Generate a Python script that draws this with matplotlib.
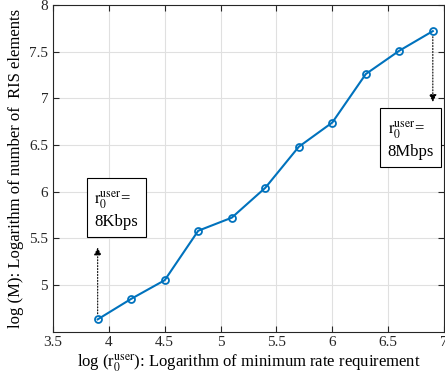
import matplotlib
matplotlib.use("Agg")
import matplotlib.pyplot as plt

plt.rcParams['font.family'] = ['Liberation Serif', 'DejaVu Serif']
plt.rcParams['mathtext.fontset'] = 'stix'

# data
log_rate = [3.9, 4.2, 4.5, 4.8, 5.1, 5.4, 5.7, 6.0, 6.3, 6.6, 6.9]
log_M = [4.63, 4.85, 5.05, 5.58, 5.72, 6.04, 6.48, 6.74, 7.26, 7.51, 7.72]
xticks = [3.5, 4, 4.5, 5, 5.5, 6, 6.5, 7]
yticks = [5, 5.5, 6, 6.5, 7, 7.5, 8]

fig = plt.figure(figsize=(4.45, 3.88), dpi=100)
ax = fig.add_axes([53/445, 1 - 331.5/388, 391/445, 326.5/388])

ax.plot(log_rate, log_M, '-o', color='#0072BD', lw=1.5, ms=5,
        mfc='none', mew=1.3)

ax.set_xlim(3.5, 7)
ax.set_ylim(4.5, 8)
ax.set_xticks(xticks)
ax.set_xticklabels(['3.5', '4', '4.5', '5', '5.5', '6', '6.5', '7'])
ax.set_yticks(yticks)
ax.set_yticklabels(['5', '5.5', '6', '6.5', '7', '7.5', '8'])
ax.tick_params(direction='in', top=True, right=True, labelsize=11,
               length=4, width=0.8, colors='#262626')
ax.grid(True, color='#e0e0e0', lw=0.8)
ax.set_axisbelow(True)
for s in ax.spines.values():
    s.set_color('#262626')
    s.set_linewidth(0.8)

ax.set_xlabel(r'log (r$_0^{\mathrm{user}}$): Logarithm of minimum rate requirement',
              fontsize=12, labelpad=2)
ax.set_ylabel('log (M): Logarithm of number of  RIS elements', fontsize=12,
              labelpad=4)

# annotations
ax.annotate('', xy=(log_rate[0], 5.43), xytext=(log_rate[0], log_M[0] + 0.03),
            arrowprops=dict(arrowstyle='-|>', linestyle=':', color='k', lw=0.8,
                            mutation_scale=11))
ax.annotate('', xy=(log_rate[-1], 6.93), xytext=(log_rate[-1], log_M[-1] - 0.03),
            arrowprops=dict(arrowstyle='-|>', linestyle=':', color='k', lw=0.8,
                            mutation_scale=11))
box = dict(boxstyle='square,pad=0.45', fc='white', ec='k', lw=0.8)
ax.text(3.87, 5.81, '$\\mathrm{r}_0^{\\mathrm{user}}$=  \n8Kbps', fontsize=12,
        va='center', ha='left', bbox=box, linespacing=1.25)
ax.text(6.495, 6.56, '$\\mathrm{r}_0^{\\mathrm{user}}$=  \n8Mbps', fontsize=12,
        va='center', ha='left', bbox=box, linespacing=1.25)

fig.savefig('out.png', dpi=100)
